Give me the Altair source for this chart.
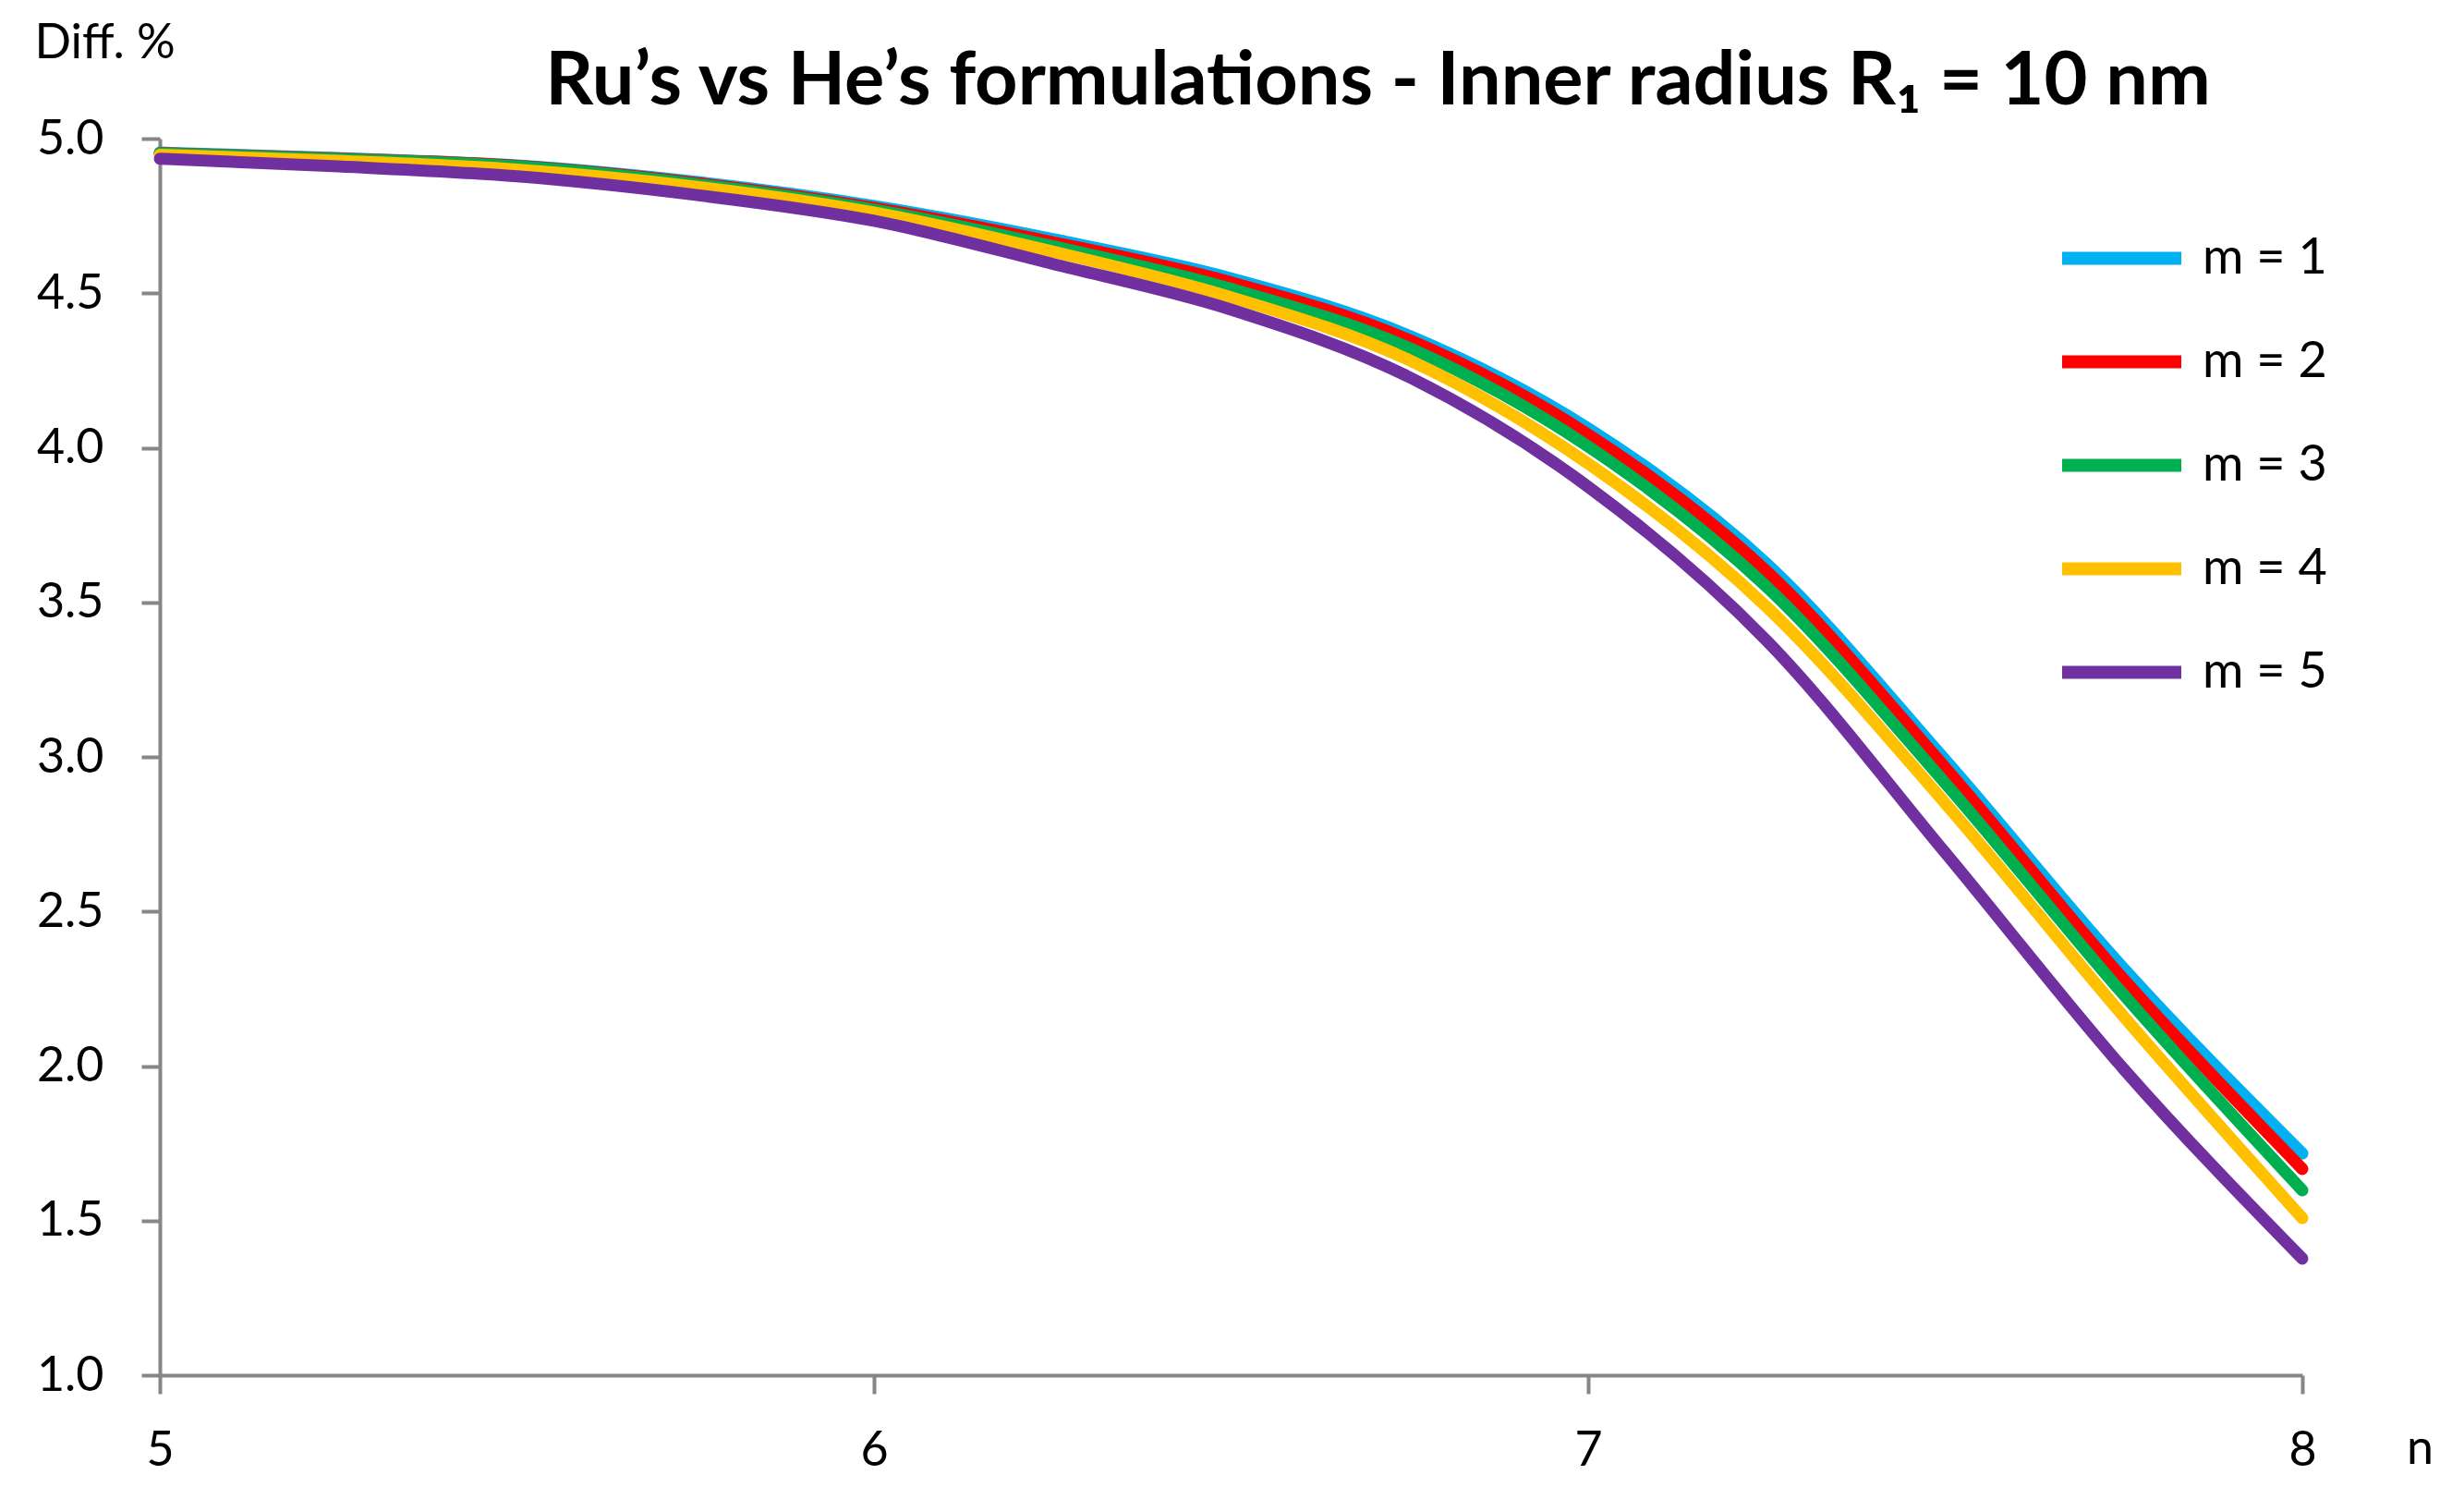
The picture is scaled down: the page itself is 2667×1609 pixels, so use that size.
import altair as alt
import pandas as pd

# ---- data ----
n_values = [5.0, 5.25, 5.5, 5.75, 6.0, 6.25, 6.5, 6.75, 7.0, 7.25, 7.5, 7.75, 8.0]
m1 = [4.955, 4.937, 4.913, 4.860, 4.782, 4.675, 4.548, 4.362, 4.063, 3.625, 2.990, 2.315, 1.717]
m2 = [4.953, 4.936, 4.912, 4.857, 4.776, 4.665, 4.535, 4.348, 4.043, 3.600, 2.965, 2.280, 1.667]
m3 = [4.952, 4.934, 4.910, 4.853, 4.770, 4.652, 4.514, 4.322, 4.004, 3.550, 2.915, 2.230, 1.598]
m4 = [4.948, 4.928, 4.900, 4.845, 4.761, 4.635, 4.487, 4.283, 3.949, 3.485, 2.850, 2.160, 1.508]
m5 = [4.935, 4.910, 4.878, 4.818, 4.734, 4.595, 4.447, 4.228, 3.874, 3.376, 2.690, 1.990, 1.377]

series_names = ["m = 1", "m = 2", "m = 3", "m = 4", "m = 5"]
series_values = [m1, m2, m3, m4, m5]
colors = ["#00B0F0", "#FF0000", "#00B050", "#FFC000", "#7030A0"]

x_ticks = [5, 6, 7, 8]
y_ticks = [1.0, 1.5, 2.0, 2.5, 3.0, 3.5, 4.0, 4.5, 5.0]

title_text = "Ru’s vs He’s formulations - Inner radius R₁ = 10 nm"

rows = []
for name, vals in zip(series_names, series_values):
    for n, v in zip(n_values, vals):
        rows.append({"series": name, "n": n, "diff": v})
df = pd.DataFrame(rows)

FONT = "Lato"
AXIS_GRAY = "#868686"

chart = (
    alt.Chart(df)
    .mark_line(strokeWidth=13, strokeCap="round", strokeJoin="round", interpolate="monotone")
    .encode(
        x=alt.X(
            "n:Q",
            scale=alt.Scale(domain=[5, 8], nice=False, zero=False),
            axis=alt.Axis(
                values=x_ticks, format="d", grid=False, labelFlush=False,
                domainColor=AXIS_GRAY, domainWidth=4,
                tickColor=AXIS_GRAY, tickWidth=4, tickSize=20,
                labelFont=FONT, labelFontSize=52, labelColor="black", labelPadding=36,
                title="n", titleFont=FONT, titleFontSize=52, titleFontWeight="normal",
                titleColor="black", titleX=2446, titleY=95,
                titleAlign="center", titleBaseline="alphabetic",
            ),
        ),
        y=alt.Y(
            "diff:Q",
            scale=alt.Scale(domain=[1, 5], nice=False, zero=False),
            axis=alt.Axis(
                values=y_ticks, format=".1f", grid=False, labelFlush=False,
                domainColor=AXIS_GRAY, domainWidth=4,
                tickColor=AXIS_GRAY, tickWidth=4, tickSize=20,
                labelFont=FONT, labelFontSize=52, labelColor="black", labelPadding=41,
                title="Diff. %", titleFont=FONT, titleFontSize=52, titleFontWeight="normal",
                titleColor="black", titleAngle=0, titleX=-136, titleY=-88,
                titleAlign="left", titleBaseline="alphabetic",
            ),
        ),
        color=alt.Color(
            "series:N",
            scale=alt.Scale(domain=series_names, range=colors),
            legend=alt.Legend(
                title=None, orient="none", legendX=2052, legendY=58,
                symbolType="stroke", symbolSize=16641, symbolStrokeWidth=14,
                labelFont=FONT, labelFontSize=54, labelColor="black",
                labelOffset=16, rowPadding=12, padding=0,
            ),
        ),
    )
    .properties(
        width=2319,
        height=1338,
        background="white",
        title=alt.TitleParams(
            text=title_text, font=FONT, fontSize=81, fontWeight="bold", color="black",
            anchor="middle", frame="group", dx=159, offset=-174, baseline="alphabetic",
        ),
        autosize=alt.AutoSizeParams(type="none"),
        padding={"left": 165, "top": 142, "right": 150, "bottom": 113},
    )
    .configure_view(stroke=None)
)

chart.save("out.html", embed_options={"renderer": "svg", "actions": False})
